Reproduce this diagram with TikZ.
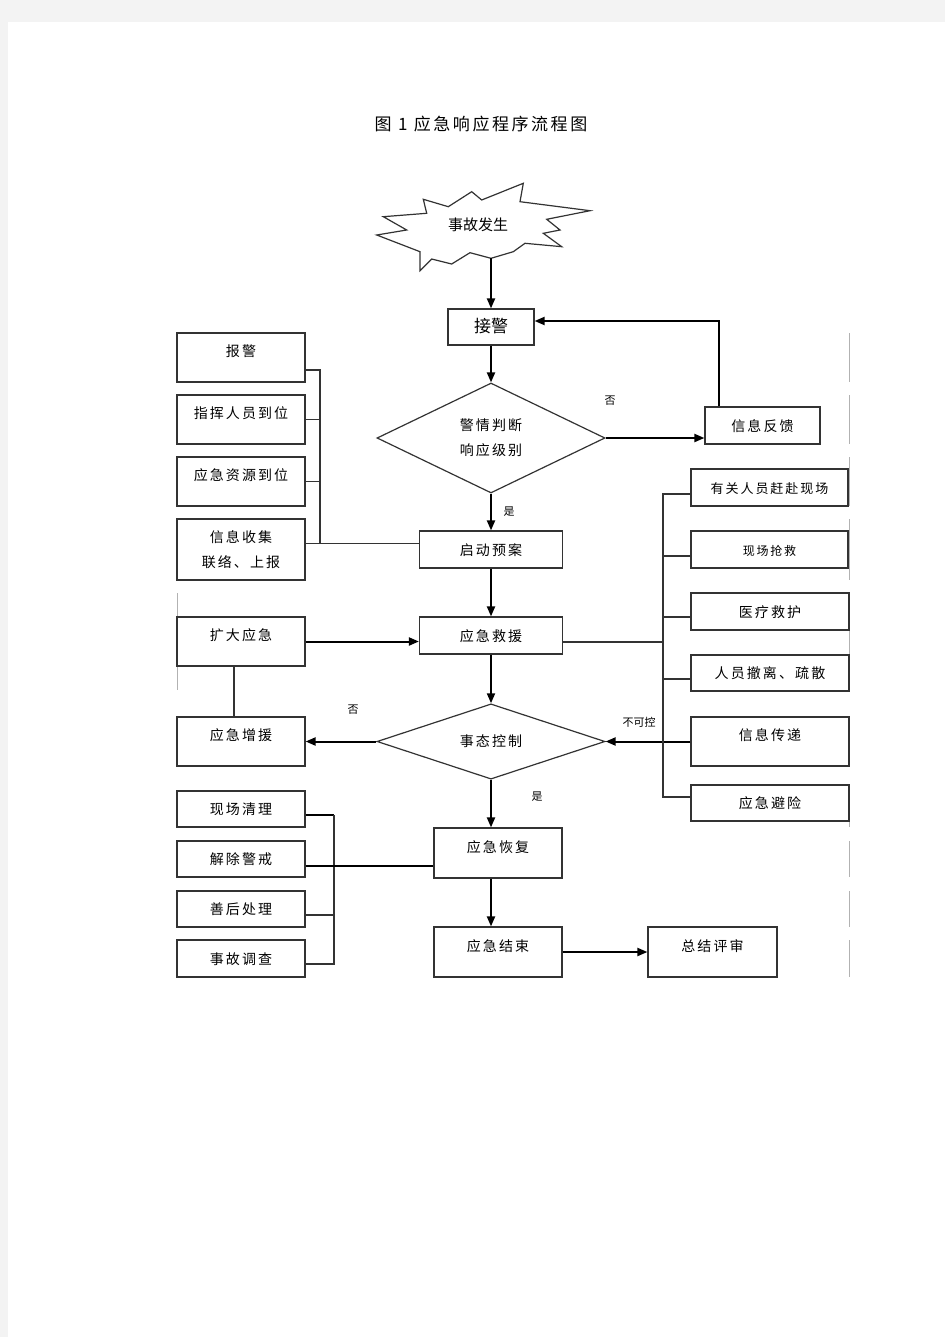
\documentclass[tikz,border=0pt]{standalone}
\usepackage{fontspec}
\usetikzlibrary{arrows.meta,shapes.geometric}
\newfontfamily\cjk{Noto Sans CJK SC}[LetterSpace=15]
\newfontfamily\cjkt{Noto Sans CJK SC}
\definecolor{pagegray}{RGB}{243,243,243}
\definecolor{edge}{RGB}{51,51,51}

\begin{document}
\begin{tikzpicture}[x=1pt,y=-1pt,
  box/.style={draw=edge,line width=1.2pt,rectangle,inner sep=0pt,text height=13pt,text depth=2pt,font=\cjk\fontsize{14}{16}\selectfont},
  tall/.style={text depth=15pt},
  dia/.style={draw=edge,line width=1.2pt,diamond,inner sep=0pt,align=center,font=\cjk\fontsize{14}{25}\selectfont},
  arr/.style={-{Triangle[length=10pt,width=8pt]},line width=2pt},
  ln/.style={draw=edge,line width=1.2pt},
  lbl/.style={font=\cjkt\fontsize{11}{13}\selectfont},
  ghost/.style={draw=black!30,line width=1pt}]%
\useasboundingbox (0,0) rectangle (945,1337);
\fill[pagegray] (0,0) rectangle (945,1337);
\fill[white] (8,22) rectangle (945,1337);
\foreach \ya/\yb in {333/382,395/444,457/506,519/580,593/690,717/766,791/827,841/877,891/927,940/977}
  \draw[ghost] (849,\ya) -- (849,\yb);
\draw[ghost] (177,593) -- (177,690);
%% title
\node[font=\cjk\fontsize{17}{20}\selectfont] (title) at (481,124) {图 1 应急响应程序流程图};
%% starburst
\draw[ln] (376.7,235) -- (406.7,230) -- (383.3,216.7) -- (426.7,213.3) -- (423.3,199.3)
  -- (448.3,206.7) -- (471.7,191.7) -- (481.7,200) -- (523.3,183.3) -- (520,201.7)
  -- (590,210.7) -- (546.7,219.3) -- (560,230) -- (543.3,233.3) -- (561.7,246.7)
  -- (525,243.3) -- (513.3,251.7) -- (491,258.3) -- (470,252.7) -- (451.7,264)
  -- (431.7,259) -- (420,270.7) -- (420,251.7) -- cycle;
\node[font=\cjkt\fontsize{15}{18}\selectfont] (acc) at (478,225) {事故发生}; %%
\coordinate (fire) at (491,258.3);
%% middle column
\node[box,minimum width=86pt,minimum height=36pt,font=\cjkt\fontsize{17}{20}\selectfont] (jj) at (491,327) {接警}; %%
\node[dia,minimum width=228pt,minimum height=110pt] (pd) at (491,438) {警情判断\\响应级别}; %%
\node[box,minimum width=115pt,minimum height=37pt] (fk) at (762.5,425.5) {信息反馈}; %%
\node[box,minimum width=143pt,minimum height=37pt] (qd) at (491,549.5) {启动预案}; %%
\node[box,minimum width=143pt,minimum height=37pt] (jy) at (491,635.5) {应急救援}; %%
\node[dia,minimum width=228pt,minimum height=73pt] (kz) at (491,741.5) {事态控制}; %%
\node[box,tall,minimum width=128pt,minimum height=50pt] (hf) at (498,853) {应急恢复}; %%
\node[box,tall,minimum width=128pt,minimum height=50pt] (js) at (498,952) {应急结束}; %%
\node[box,tall,minimum width=129pt,minimum height=50pt] (ps) at (712.5,952) {总结评审}; %%
%% left column
\node[box,tall,minimum width=128pt,minimum height=49pt] (l1) at (241,357.5) {报警}; %%
\node[box,tall,minimum width=128pt,minimum height=49pt] (l2) at (241,419.5) {指挥人员到位}; %%
\node[box,tall,minimum width=128pt,minimum height=49pt] (l3) at (241,481.5) {应急资源到位}; %%
\node[box,minimum width=128pt,minimum height=61pt,text height={},text depth={},align=center,font=\cjk\fontsize{14}{25}\selectfont] (l4) at (241,549.5) {信息收集\\联络、上报}; %%
\node[box,tall,minimum width=128pt,minimum height=49pt] (kd) at (241,641.5) {扩大应急}; %%
\node[box,tall,minimum width=128pt,minimum height=49pt] (zy) at (241,741.5) {应急增援}; %%
\node[box,minimum width=128pt,minimum height=36pt] (b1) at (241,809) {现场清理}; %%
\node[box,minimum width=128pt,minimum height=36pt] (b2) at (241,859) {解除警戒}; %%
\node[box,minimum width=128pt,minimum height=36pt] (b3) at (241,909) {善后处理}; %%
\node[box,minimum width=128pt,minimum height=37pt] (b4) at (241,958.5) {事故调查}; %%
%% right column
\node[box,minimum width=157pt,minimum height=37pt,font=\cjk\fontsize{13}{15}\selectfont] (r1) at (769.5,487.5) {有关人员赶赴现场}; %%
\node[box,minimum width=157pt,minimum height=37pt,font=\cjk\fontsize{12}{14}\selectfont] (r2) at (769.5,549.5) {现场抢救}; %%
\node[box,minimum width=158pt,minimum height=37pt] (r3) at (770,611.5) {医疗救护}; %%
\node[box,minimum width=158pt,minimum height=36pt] (r4) at (770,673) {人员撤离、疏散}; %%
\node[box,tall,minimum width=158pt,minimum height=49pt] (r5) at (770,741.5) {信息传递}; %%
\node[box,minimum width=158pt,minimum height=36pt] (r6) at (770,803) {应急避险}; %%
%% labels
\node[lbl] (no1) at (610,401) {否};
\node[lbl] (yes1) at (509,512) {是};
\node[lbl] (no2) at (353,710) {否};
\node[lbl] (nc) at (639,722) {不可控};
\node[lbl] (yes2) at (537,797) {是};
%% arrows
\draw[arr] (fire) -- (fire |- jj.north);
\draw[arr] (jj) -- (pd);
\draw[arr] (pd.east) -- (pd.east -| fk.west);
\draw[arr] ([xshift=15pt]fk.north west) |- ([yshift=6pt]jj.east);
\draw[arr] (pd) -- (qd);
\draw[arr] (qd) -- (jy);
\draw[arr] (kd.east) -- (kd.east -| jy.west);
\draw[ln] ([xshift=-7pt]kd.south) -- ([xshift=-7pt]zy.north);
\draw[arr] (jy) -- (kz);
\draw[arr] (kz.west) -- (zy.east);
\draw[arr] (r5.west) -- (kz.east);
\draw[arr] (kz.south) -- (kz.south |- hf.north);
\draw[arr] (kz.south |- hf.south) -- (kz.south |- js.north);
\draw[arr] (js.east) -- (ps.west);
%% left bracket
\coordinate (lbar) at (320,370);
\coordinate (l4p) at ([yshift=6pt]l4.east);
\draw[ln] ([yshift=-12.5pt]l1.east) -- (lbar) -- (lbar |- l4p);
\draw[ln] (l2.east) -- (l2.east -| lbar);
\draw[ln] (l3.east) -- (l3.east -| lbar);
\draw[ln] (l4p) -- (l4p -| qd.west);
%% right bracket
\coordinate (rbar) at (663,494);
\coordinate (r6p) at ([yshift=6pt]r6.west);
\draw[ln] ([yshift=-6.5pt]r1.west) -- (rbar) -- (rbar |- r6p) -- (r6p);
\draw[ln] ([yshift=-6.5pt]r2.west) -- ([yshift=-6.5pt]r2.west -| rbar);
\draw[ln] ([yshift=-5.5pt]r3.west) -- ([yshift=-5.5pt]r3.west -| rbar);
\draw[ln] ([yshift=-6pt]r4.west) -- ([yshift=-6pt]r4.west -| rbar);
\draw[ln] ([yshift=-6.5pt]jy.east) -- ([yshift=-6.5pt]jy.east -| rbar);
%% bottom bracket
\coordinate (bbar) at (334,815);
\coordinate (b4p) at ([yshift=-5.5pt]b4.east);
\draw[ln,line width=2pt,black] ([yshift=-6pt]b1.east) -- (bbar);
\draw[ln] (bbar) -- (bbar |- b4p) -- (b4p);
\draw[ln,line width=2pt,black] ([yshift=-7pt]b2.east) -- ([yshift=-7pt]b2.east -| hf.west);
\draw[ln] ([yshift=-6pt]b3.east) -- ([yshift=-6pt]b3.east -| bbar);
\end{tikzpicture}
\end{document}
